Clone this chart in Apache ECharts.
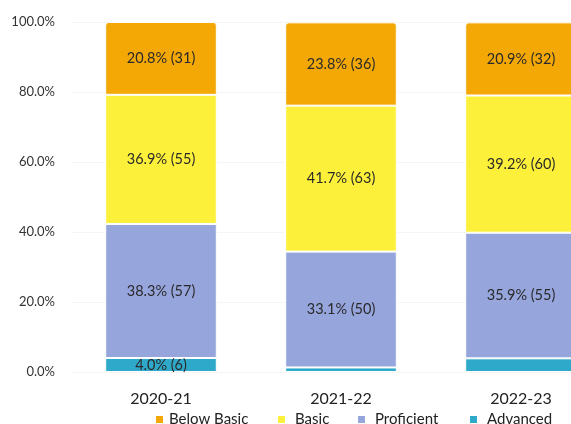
<!DOCTYPE html>
<html><head><meta charset="utf-8">
<script src="https://cdn.jsdelivr.net/npm/echarts@6/dist/echarts.min.js"></script>
<style>html,body{margin:0;padding:0;background:#fff;overflow:hidden;width:571px;height:424px}#c{width:612px;height:424px}</style>
</head><body><div id="c"></div>
<script>
var categories = ['2020-21', '2021-22', '2022-23'];
var belowBasicPct = [20.8, 23.8, 20.9];
var belowBasicN = [31, 36, 32];
var basicPct = [36.9, 41.7, 39.2];
var basicN = [55, 63, 60];
var proficientPct = [38.3, 33.1, 35.9];
var proficientN = [57, 50, 55];
var advancedPct = [4.0, 1.3, 3.9];
var advancedN = [6, 2, 6];
var advancedShowLabel = [true, false, false];
var yTicks = [0, 20, 40, 60, 80, 100];
var legendNames = ['Below Basic', 'Basic', 'Proficient', 'Advanced'];

var font = 'Lato, "Open Sans", sans-serif';
function mk(name, pct, n, color, top, showArr) {
  return {
    name: name, type: 'bar', stack: 'total', barWidth: '62%',
    data: pct.map(function (v, i) {
      var d = { value: v, n: n[i] };
      if (showArr && !showArr[i]) d.label = { show: false };
      return d;
    }),
    itemStyle: { color: color, borderColor: '#fff', borderWidth: 1,
      borderRadius: top ? [3, 3, 0, 0] : 0 },
    label: { show: true, position: 'inside', fontFamily: font, fontSize: 14.5, color: '#2a2a2a',
      formatter: function (p) { return p.value.toFixed(1) + '% (' + p.data.n + ')'; } }
  };
}
var legendLefts = [154, 276, 356, 468];
var legends = legendNames.map(function (nm, i) {
  return {
    data: [nm], left: legendLefts[i], bottom: -3, itemWidth: 9, itemHeight: 9,
    icon: 'rect', padding: 0,
    textStyle: { fontFamily: font, fontSize: 15, color: '#222', padding: [0, 0, 0, i === 0 ? 0 : 4] }
  };
});
var chart = echarts.init(document.getElementById('c'));
chart.setOption({
  animation: false,
  grid: { left: 71, right: 1, top: 22, bottom: 52 },
  legend: legends,
  xAxis: {
    type: 'category', data: categories,
    axisLine: { show: false }, axisTick: { show: false },
    axisLabel: { fontFamily: font, fontSize: 16, color: '#222', margin: 19 }
  },
  yAxis: {
    type: 'value', min: 0, max: 100, interval: 20,
    axisLabel: { fontFamily: font, fontSize: 13, color: '#333', margin: 16,
      formatter: function (v) { return yTicks.indexOf(v) >= 0 ? v.toFixed(1) + '%' : ''; } },
    splitLine: { lineStyle: { color: '#f5f5f5' } }
  },
  series: [
    mk('Advanced', advancedPct, advancedN, '#2fa9c9', false, advancedShowLabel),
    mk('Proficient', proficientPct, proficientN, '#97a5dd', false),
    mk('Basic', basicPct, basicN, '#fdf03a', false),
    mk('Below Basic', belowBasicPct, belowBasicN, '#f4a806', true)
  ]
});
</script></body></html>
